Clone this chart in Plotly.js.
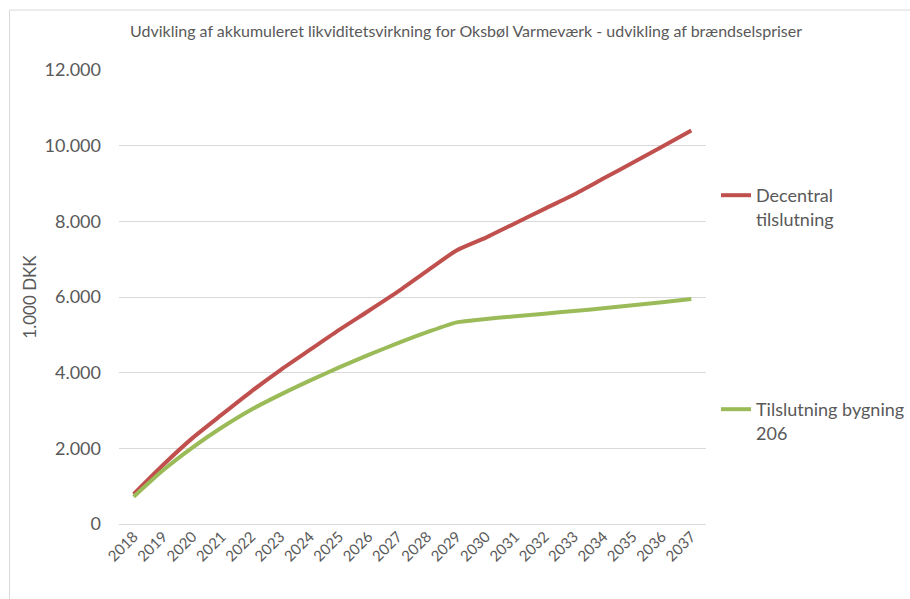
<!DOCTYPE html>
<html>
<head>
<meta charset="utf-8">
<script src="https://cdn.plot.ly/plotly-3.0.1.min.js"></script>
<style>
html,body{margin:0;padding:0;background:#fff;}
#chart{width:910px;height:599px;}
</style>
</head>
<body>
<div id="chart"></div>
<script>
const years = ["2018","2019","2020","2021","2022","2023","2024","2025","2026","2027","2028","2029","2030","2031","2032","2033","2034","2035","2036","2037"];
const decentral = [790,1560,2270,2890,3500,4070,4600,5130,5630,6140,6690,7230,7570,7950,8330,8710,9130,9550,9970,10400];
const bygning206 = [720,1420,2020,2550,3020,3420,3790,4140,4470,4780,5070,5330,5420,5490,5560,5630,5700,5780,5860,5950];
const seriesNames = ["Decentral<br>tilslutning", "Tilslutning bygning<br>206"];
const titleText = "Udvikling af akkumuleret likviditetsvirkning for Oksbøl Varmeværk - udvikling af brændselspriser";
const yTitle = "1.000 DKK";
const yTickVals = [0,2000,4000,6000,8000,10000,12000];
const yTickText = ["0","2.000","4.000","6.000","8.000","10.000","12.000"];

const FONT = "Lato, 'Open Sans', sans-serif";
const GREY = "#595959";

const traces = [
  {x: years, y: decentral, name: seriesNames[0], type: "scatter", mode: "lines",
   line: {color: "#C0504D", width: 4, shape: "spline", smoothing: 0.6}, legend: "legend"},
  {x: years, y: bygning206, name: seriesNames[1], type: "scatter", mode: "lines",
   line: {color: "#9BBB59", width: 4, shape: "spline", smoothing: 0.6}, legend: "legend2"}
];

const legendCommon = {
  xref: "container", yref: "container",
  xanchor: "left", yanchor: "top", valign: "top",
  font: {family: FONT, size: 18, color: GREY},
  bgcolor: "rgba(0,0,0,0)", borderwidth: 0, itemwidth: 30,
  tracegroupgap: 0
};

const layout = {
  width: 910, height: 599,
  margin: {l: 118.5, r: 204.3, t: 70, b: 75, autoexpand: false},
  paper_bgcolor: "#fff", plot_bgcolor: "#fff",
  showlegend: true,
  title: {text: titleText, x: 466/910, xref: "container", xanchor: "center",
          y: 1 - 31/599, yref: "container", yanchor: "middle",
          font: {family: FONT, size: 16, color: GREY}},
  xaxis: {type: "category", range: [-0.5, 19.5], tickangle: -45,
          tickfont: {family: FONT, size: 15, color: GREY},
          showgrid: false, zeroline: false, showline: false, ticks: "",
          fixedrange: true},
  yaxis: {range: [0, 12000], tickvals: yTickVals, ticktext: yTickText,
          tickfont: {family: FONT, size: 18, color: GREY},
          showgrid: true, gridcolor: "#D9D9D9", gridwidth: 1,
          zeroline: true, zerolinecolor: "#D9D9D9", zerolinewidth: 1,
          showline: false, ticks: "", ticklabelstandoff: 17,
          title: {text: yTitle, standoff: 3, font: {family: FONT, size: 17, color: GREY}},
          fixedrange: true},
  legend: Object.assign({x: 716/910, y: 1 - 177/599}, legendCommon),
  legend2: Object.assign({x: 716/910, y: 1 - 391/599}, legendCommon),
  shapes: [{type: "rect", xref: "paper", yref: "paper",
            x0: -0.1865, x1: 2, y0: -1, y1: 1.132,
            line: {color: "#D9D9D9", width: 1}, fillcolor: "rgba(0,0,0,0)", layer: "below"}]
};

Plotly.newPlot("chart", traces, layout, {displayModeBar: false, staticPlot: true});
</script>
</body>
</html>
